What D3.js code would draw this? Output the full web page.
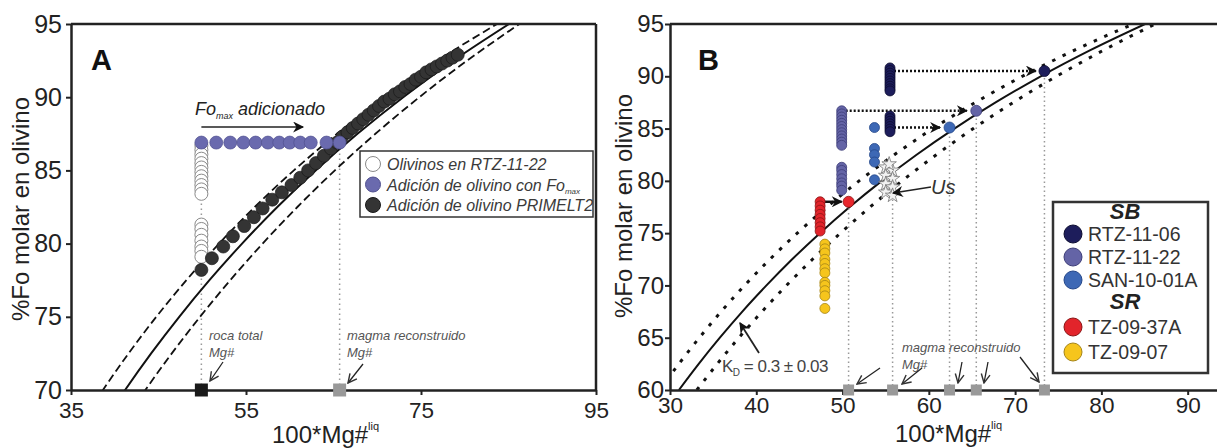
<!DOCTYPE html>
<html>
<head>
<meta charset="utf-8">
<script src="https://cdn.jsdelivr.net/npm/d3@7"></script>
<style>
  body { margin: 0; background: #fff; }
  svg { font-family: "Liberation Sans", Arial, sans-serif; display: block; }
</style>
</head>
<body>
<svg width="1217" height="448"></svg>
<script>
// ---------- data ----------
// olivine-liquid equilibrium curves, Mg# at each Fo for KD = 0.27 / 0.30 / 0.33
var foGrid  = [60, 62.5, 65, 67.5, 70, 72.5, 75, 77.5, 80, 82.5, 85, 87.5, 90, 92.5, 95];
var mgKd027 = [28.83, 31.03, 33.40, 35.93, 38.65, 41.58, 44.75, 48.19, 51.92, 56.00, 60.47, 65.40, 70.85, 76.90, 83.69];
var mgKd030 = [31.03, 33.33, 35.78, 38.38, 41.18, 44.16, 47.37, 50.82, 54.55, 58.58, 62.96, 67.74, 72.97, 78.72, 85.07];
var mgKd033 = [33.11, 35.48, 37.99, 40.67, 43.50, 46.52, 49.75, 53.20, 56.90, 60.87, 65.16, 69.79, 74.81, 80.27, 86.25];

// panel A
var rocaTotalMg = 49.9;
var magmaA = 65.7;
var rtz1122Fo = [86.7, 86.4, 86.1, 85.8, 85.5, 85.2, 84.9, 84.6, 84.3, 84.0, 83.7, 83.4,
                 81.3, 81.0, 80.6, 80.2, 79.8, 79.5, 79.1];
var foMax = 86.9;
var foMaxMg = [49.9, 51.6, 53.2, 54.7, 56.1, 57.5, 58.8, 60.0, 61.2, 62.4, 64.2, 65.7];
var primeltMg = [49.9, 51.1, 52.4, 53.5, 54.8, 55.9, 56.9, 58.0, 59.1, 60.2, 61.2, 62.1, 63.0, 63.9, 64.7,
                 65.4, 66.0, 66.6, 67.2, 67.8, 68.4, 69.0, 69.6, 70.2, 70.8, 71.4, 72.0, 72.6, 73.2, 73.8,
                 74.4, 75.0, 75.6, 76.2, 76.8, 77.4, 78.0, 78.6, 79.2];
var primeltFo = [78.2, 79.0, 79.8, 80.5, 81.2, 81.8, 82.4, 83.0, 83.5, 84.0, 84.5, 85.0, 85.5, 86.0, 86.5,
                 86.9, 87.3, 87.6, 87.9, 88.2, 88.5, 88.8, 89.1, 89.4, 89.7, 89.9, 90.2, 90.4, 90.7, 90.9,
                 91.2, 91.4, 91.7, 91.9, 92.1, 92.3, 92.5, 92.7, 92.9];

// panel B
var sampleNames = ["RTZ-11-06", "RTZ-11-22", "SAN-10-01A", "TZ-09-37A", "TZ-09-07"];
var sampleMg = [55.5, 49.9, 53.7, 47.4, 47.95];
var rtz1106Fo = [90.8, 90.55, 90.3, 90.05, 89.8, 89.55, 89.3, 89.05, 88.8, 88.6,
                 86.2, 85.95, 85.7, 85.45, 85.2, 84.95, 84.7];
var sanFo = [85.1, 83.1, 82.5, 81.8, 80.1];
var tz37aFo = [78.0, 77.6, 77.2, 76.8, 76.4, 76.0, 75.6, 75.2];
var tz07Fo = [73.95, 73.5, 73.1, 72.5, 72.1, 71.6, 71.2, 70.3, 70.0, 69.5, 69.0, 67.8];
var usMg = [55.0, 55.8, 55.0, 55.8, 55.0, 55.8, 55.0, 55.8, 55.4];
var usFo = [81.3, 81.0, 80.5, 80.2, 79.7, 79.4, 78.9, 78.6, 81.6];
// reconstructed magmas: Mg#, Fo, sample index of the point (-1 = Us)
var reconMg = [50.7, 55.8, 62.4, 65.5, 73.4];
var reconFo = [78.0, 79.0, 85.1, 86.7, 90.5];
var reconSample = [3, -1, 2, 1, 0];
// horizontal "olivine addition" arrows: start Mg#, tip Mg#, Fo
var addFrom = [55.5, 49.9, 55.5, 47.4];
var addTo = [72.4, 64.4, 61.3, 49.9];
var addFo = [90.5, 86.7, 85.1, 78.0];

var sampleFill = ["#1d1d5b", "#6464a6", "#3d68b5", "#e2242b", "#f6c51c"];
var sampleStroke = ["#0c0c30", "#3e3e78", "#24478a", "#8a1515", "#a58418"];

// ---------- setup ----------
var svg = d3.select("svg");
var defs = svg.append("defs");
defs.append("marker").attr("id", "headFill")
    .attr("viewBox", "0 0 10 10").attr("refX", 9).attr("refY", 5)
    .attr("markerWidth", 15).attr("markerHeight", 11)
    .attr("markerUnits", "userSpaceOnUse").attr("orient", "auto")
  .append("path").attr("d", "M0,0L10,5L0,10L3,5Z").attr("fill", "#111");
defs.append("marker").attr("id", "headOpen")
    .attr("viewBox", "0 0 10 10").attr("refX", 9).attr("refY", 5)
    .attr("markerWidth", 11).attr("markerHeight", 11)
    .attr("markerUnits", "userSpaceOnUse").attr("orient", "auto")
  .append("path").attr("d", "M1,1L9,5L1,9").attr("fill", "none")
    .attr("stroke", "#333").attr("stroke-width", 1.3);

var xA = d3.scaleLinear().domain([35, 95]).range([71, 596]);
var yA = d3.scaleLinear().domain([70, 95]).range([390, 24]);
var xB = d3.scaleLinear().domain([30, 93.4]).range([670, 1217]);
var yB = d3.scaleLinear().domain([60, 95]).range([390, 24]);

function clip(id, x, y) {
  defs.append("clipPath").attr("id", id).append("rect")
      .attr("x", x.range()[0]).attr("y", y.range()[1])
      .attr("width", x.range()[1] - x.range()[0])
      .attr("height", y.range()[0] - y.range()[1]);
}
clip("clipA", xA, yA);
clip("clipB", xB, yB);

function curves(x, y, clipId, dash, outerWidth) {
  var g = svg.append("g").attr("clip-path", "url(#" + clipId + ")");
  var line = d3.line()
      .x(function(d) { return x(d[0]); })
      .y(function(d) { return y(d[1]); })
      .curve(d3.curveMonotoneX);
  [mgKd027, mgKd030, mgKd033].forEach(function(arr, k) {
    var pts = arr.map(function(m, i) { return [m, foGrid[i]]; });
    g.append("path").attr("d", line(pts))
      .attr("fill", "none").attr("stroke", "#111")
      .attr("stroke-width", k == 1 ? 2 : outerWidth)
      .attr("stroke-dasharray", k == 1 ? null : dash);
  });
}

function axes(x, y, xTicks, yTicks, xPad, yPad, ySize, right) {
  var ax = svg.append("g").attr("transform", "translate(0," + y.range()[0] + ")")
      .call(d3.axisBottom(x).tickValues(xTicks).tickSize(5).tickSizeOuter(0).tickPadding(xPad));
  ax.selectAll("text").attr("font-size", 22.5).attr("fill", "#222").attr("font-family", null);
  var ay = svg.append("g").attr("transform", "translate(" + x.range()[0] + ",0)")
      .call(d3.axisLeft(y).tickValues(yTicks).tickSize(5).tickSizeOuter(0).tickPadding(yPad));
  ay.selectAll("text").attr("font-size", ySize).attr("fill", "#222").attr("font-family", null);
  [ax, ay].forEach(function(a) {
    a.select(".domain").attr("stroke", "#222").attr("stroke-width", 2.5);
    a.selectAll(".tick line").attr("stroke", "#222").attr("stroke-width", 2);
  });
  svg.append("line").attr("x1", x.range()[0]).attr("x2", x.range()[1])
     .attr("y1", y.range()[1]).attr("y2", y.range()[1])
     .attr("stroke", "#222").attr("stroke-width", 2.5);
  if (right) {
    svg.append("line").attr("x1", x.range()[1]).attr("x2", x.range()[1])
       .attr("y1", y.range()[1]).attr("y2", y.range()[0])
       .attr("stroke", "#222").attr("stroke-width", 2.5);
  }
}

function yTitle(xpos, ycenter) {
  svg.append("text").attr("transform", "translate(" + xpos + "," + ycenter + ") rotate(-90)")
     .attr("text-anchor", "middle").attr("font-size", 24).attr("fill", "#222")
     .text("%Fo molar en olivino");
}
function xTitle(xpos, ypos) {
  var t = svg.append("text").attr("x", xpos).attr("y", ypos)
     .attr("font-size", 24).attr("fill", "#222");
  t.append("tspan").text("100*Mg#");
  t.append("tspan").attr("font-size", 11).attr("dy", -13).text("liq");
}

function note(x, y, lines) {
  lines.forEach(function(s, i) {
    svg.append("text").attr("x", x).attr("y", y + i * 17)
       .attr("font-size", 13).attr("font-style", "italic").attr("fill", "#555").text(s);
  });
}
function arrow(x1, y1, x2, y2, head, w) {
  svg.append("line").attr("x1", x1).attr("y1", y1).attr("x2", x2).attr("y2", y2)
     .attr("stroke", "#222").attr("stroke-width", w || 1.3)
     .attr("marker-end", "url(#" + head + ")");
}

// ================= PANEL A =================
// dotted Mg# guides
[rocaTotalMg, magmaA].forEach(function(m) {
  svg.append("line").attr("x1", xA(m)).attr("x2", xA(m))
     .attr("y1", yA(70)).attr("y2", yA(foMax))
     .attr("stroke", "#999").attr("stroke-width", 1.5).attr("stroke-dasharray", "1.5,3.5");
});
curves(xA, yA, "clipA", "8,4", 1.8);

svg.append("g").selectAll("circle").data(rtz1122Fo).enter().append("circle")
   .attr("cx", xA(rocaTotalMg)).attr("cy", function(d) { return yA(d); })
   .attr("r", 6.5).attr("fill", "#fff").attr("stroke", "#8a8a8a").attr("stroke-width", 1);

svg.append("g").selectAll("circle").data(primeltMg).enter().append("circle")
   .attr("cx", function(d) { return xA(d); })
   .attr("cy", function(d, i) { return yA(primeltFo[i]); })
   .attr("r", 6.5).attr("fill", "#343434").attr("stroke", "#1a1a1a").attr("stroke-width", 0.7);

svg.append("g").selectAll("circle").data(foMaxMg).enter().append("circle")
   .attr("cx", function(d) { return xA(d); }).attr("cy", yA(foMax))
   .attr("r", 6.5).attr("fill", "#6a6aae").attr("stroke", "#50508f").attr("stroke-width", 0.7);

axes(xA, yA, [35, 55, 75, 95], [70, 75, 80, 85, 90, 95], 7, 4, 25, true);

// Mg# squares on the x axis
svg.append("rect").attr("x", xA(rocaTotalMg) - 6.5).attr("y", yA(70) - 6.5)
   .attr("width", 13).attr("height", 13).attr("fill", "#1a1a1a");
svg.append("rect").attr("x", xA(magmaA) - 6.5).attr("y", yA(70) - 6.5)
   .attr("width", 13).attr("height", 13).attr("fill", "#999");

note(209, 340, ["roca total", "Mg#"]);
arrow(223, 362, 210, 381, "headOpen");
note(347, 340, ["magma reconstruido", "Mg#"]);
arrow(363, 364, 348, 383, "headOpen");

// Fo max adicionado
var fmax = svg.append("text").attr("x", 195).attr("y", 115)
   .attr("font-size", 18).attr("font-style", "italic").attr("fill", "#222");
fmax.append("tspan").text("Fo");
fmax.append("tspan").attr("font-size", 9).attr("dy", 4).text("max");
fmax.append("tspan").attr("dy", -4).text(" adicionado");
arrow(xA(rocaTotalMg), 127, 303, 127, "headFill", 1.6);

svg.append("text").attr("x", 91).attr("y", 70).attr("font-size", 29)
   .attr("font-weight", "bold").attr("fill", "#111").text("A");

// legend A
svg.append("rect").attr("x", 360).attr("y", 151).attr("width", 233).attr("height", 66)
   .attr("fill", "#fff").attr("stroke", "#333").attr("stroke-width", 1.5);
var legA = [
  { t: "Olivinos en RTZ-11-22", f: "#fff", s: "#8a8a8a" },
  { t: "Adición de olivino con Fo", sub: "max", f: "#6a6aae", s: "#50508f" },
  { t: "Adición de olivino PRIMELT2", f: "#343434", s: "#1a1a1a" }
];
legA.forEach(function(d, i) {
  var cy = 164 + i * 20.5;
  svg.append("circle").attr("cx", 373).attr("cy", cy).attr("r", 7.5)
     .attr("fill", d.f).attr("stroke", d.s).attr("stroke-width", 1);
  var t = svg.append("text").attr("x", 387).attr("y", cy + 6)
     .attr("font-size", 16).attr("font-style", "italic").attr("fill", "#3a3a3a");
  t.append("tspan").text(d.t);
  if (d.sub) t.append("tspan").attr("font-size", 8).attr("dy", 3).text(d.sub);
});

yTitle(29, 209);
xTitle(272, 443);

// ================= PANEL B =================
curves(xB, yB, "clipB", "3.5,8", 3);

// vertical dotted lines from reconstructed Mg# squares
svg.append("g").selectAll("line").data(reconMg).enter().append("line")
   .attr("x1", function(d) { return xB(d); }).attr("x2", function(d) { return xB(d); })
   .attr("y1", yB(60)).attr("y2", function(d, i) { return yB(reconFo[i]); })
   .attr("stroke", "#999").attr("stroke-width", 1.5).attr("stroke-dasharray", "1.5,3");

// horizontal olivine addition arrows
svg.append("g").selectAll("line").data(addFrom).enter().append("line")
   .attr("x1", function(d) { return xB(d); })
   .attr("x2", function(d, i) { return xB(addTo[i]); })
   .attr("y1", function(d, i) { return yB(addFo[i]); })
   .attr("y2", function(d, i) { return yB(addFo[i]); })
   .attr("stroke", "#111").attr("stroke-width", 2.5)
   .attr("stroke-dasharray", function(d, i) { return i == 3 ? null : "2,2"; })
   .attr("marker-end", "url(#headFill)");

function column(vals, si) {
  svg.append("g").selectAll("circle").data(vals).enter().append("circle")
     .attr("cx", xB(sampleMg[si])).attr("cy", function(d) { return yB(d); })
     .attr("r", 5).attr("fill", sampleFill[si])
     .attr("stroke", sampleStroke[si]).attr("stroke-width", 0.8);
}
column(tz07Fo, 4);
column(tz37aFo, 3);
column(rtz1122Fo, 1);
column(sanFo, 2);
column(rtz1106Fo, 0);

// Us
svg.append("g").selectAll("path").data(usMg).enter().append("path")
   .attr("d", d3.symbol().type(d3.symbolStar).size(65))
   .attr("transform", function(d, i) { return "translate(" + xB(d) + "," + yB(usFo[i]) + ")"; })
   .attr("fill", "#f2f2f2").attr("stroke", "#777").attr("stroke-width", 0.8);

// reconstructed magma olivines on the curve
svg.append("g").selectAll("circle")
   .data(reconMg.filter(function(d, i) { return reconSample[i] >= 0; })).enter().append("circle")
   .attr("cx", function(d) { return xB(d); })
   .attr("cy", function(d) { return yB(reconFo[reconMg.indexOf(d)]); })
   .attr("r", 5.5)
   .attr("fill", function(d) { var s = reconSample[reconMg.indexOf(d)]; return s == 3 ? "#e8262c" : sampleFill[s]; })
   .attr("stroke", function(d) { return sampleStroke[reconSample[reconMg.indexOf(d)]]; })
   .attr("stroke-width", 0.8);

axes(xB, yB, [30, 40, 50, 60, 70, 80, 90], [60, 65, 70, 75, 80, 85, 90, 95], 2, 1, 24, false);

svg.append("g").selectAll("rect").data(reconMg).enter().append("rect")
   .attr("x", function(d) { return xB(d) - 5.5; }).attr("y", yB(60) - 5.5)
   .attr("width", 11).attr("height", 11).attr("fill", "#999");

// annotations B
note(902, 352, ["magma reconstruido", "Mg#"]);
arrow(880, 368, 857, 384, "headOpen");
arrow(922, 368, 902, 384, "headOpen");
arrow(962, 362, 958, 383, "headOpen");
arrow(988, 362, 984, 383, "headOpen");
arrow(1020, 357, 1039, 382, "headOpen");

svg.append("text").attr("x", 931).attr("y", 194).attr("font-size", 20)
   .attr("font-style", "italic").attr("fill", "#333").text("Us");
arrow(931, 187, 893, 193, "headFill", 1.6);

var kd = svg.append("text").attr("x", 722).attr("y", 372).attr("font-size", 17)
   .attr("fill", "#444").attr("letter-spacing", -0.5);
kd.append("tspan").text("K");
kd.append("tspan").attr("font-size", 10).attr("dy", 4).text("D");
kd.append("tspan").attr("dy", -4).text(" = 0.3 ± 0.03");
arrow(759, 353, 740, 323, "headFill", 1.8);

svg.append("text").attr("x", 698).attr("y", 70).attr("font-size", 29)
   .attr("font-weight", "bold").attr("fill", "#111").text("B");

// legend B
svg.append("rect").attr("x", 1053).attr("y", 202).attr("width", 155).attr("height", 171)
   .attr("fill", "#fff").attr("stroke", "#333").attr("stroke-width", 2.5);
var legRows = [234, 257, 280, 327, 352];
[["SB", 219], ["SR", 309]].forEach(function(h) {
  svg.append("text").attr("x", 1125).attr("y", h[1]).attr("text-anchor", "middle")
     .attr("font-size", 22).attr("font-weight", "bold").attr("font-style", "italic")
     .attr("fill", "#222").text(h[0]);
});
sampleNames.forEach(function(name, i) {
  svg.append("circle").attr("cx", 1073).attr("cy", legRows[i]).attr("r", 9)
     .attr("fill", sampleFill[i]).attr("stroke", sampleStroke[i]).attr("stroke-width", 1);
  svg.append("text").attr("x", 1088).attr("y", legRows[i] + 7).attr("font-size", 19.5)
     .attr("fill", "#333").text(name);
});

yTitle(632, 206);
xTitle(895, 442);
</script>
</body>
</html>
